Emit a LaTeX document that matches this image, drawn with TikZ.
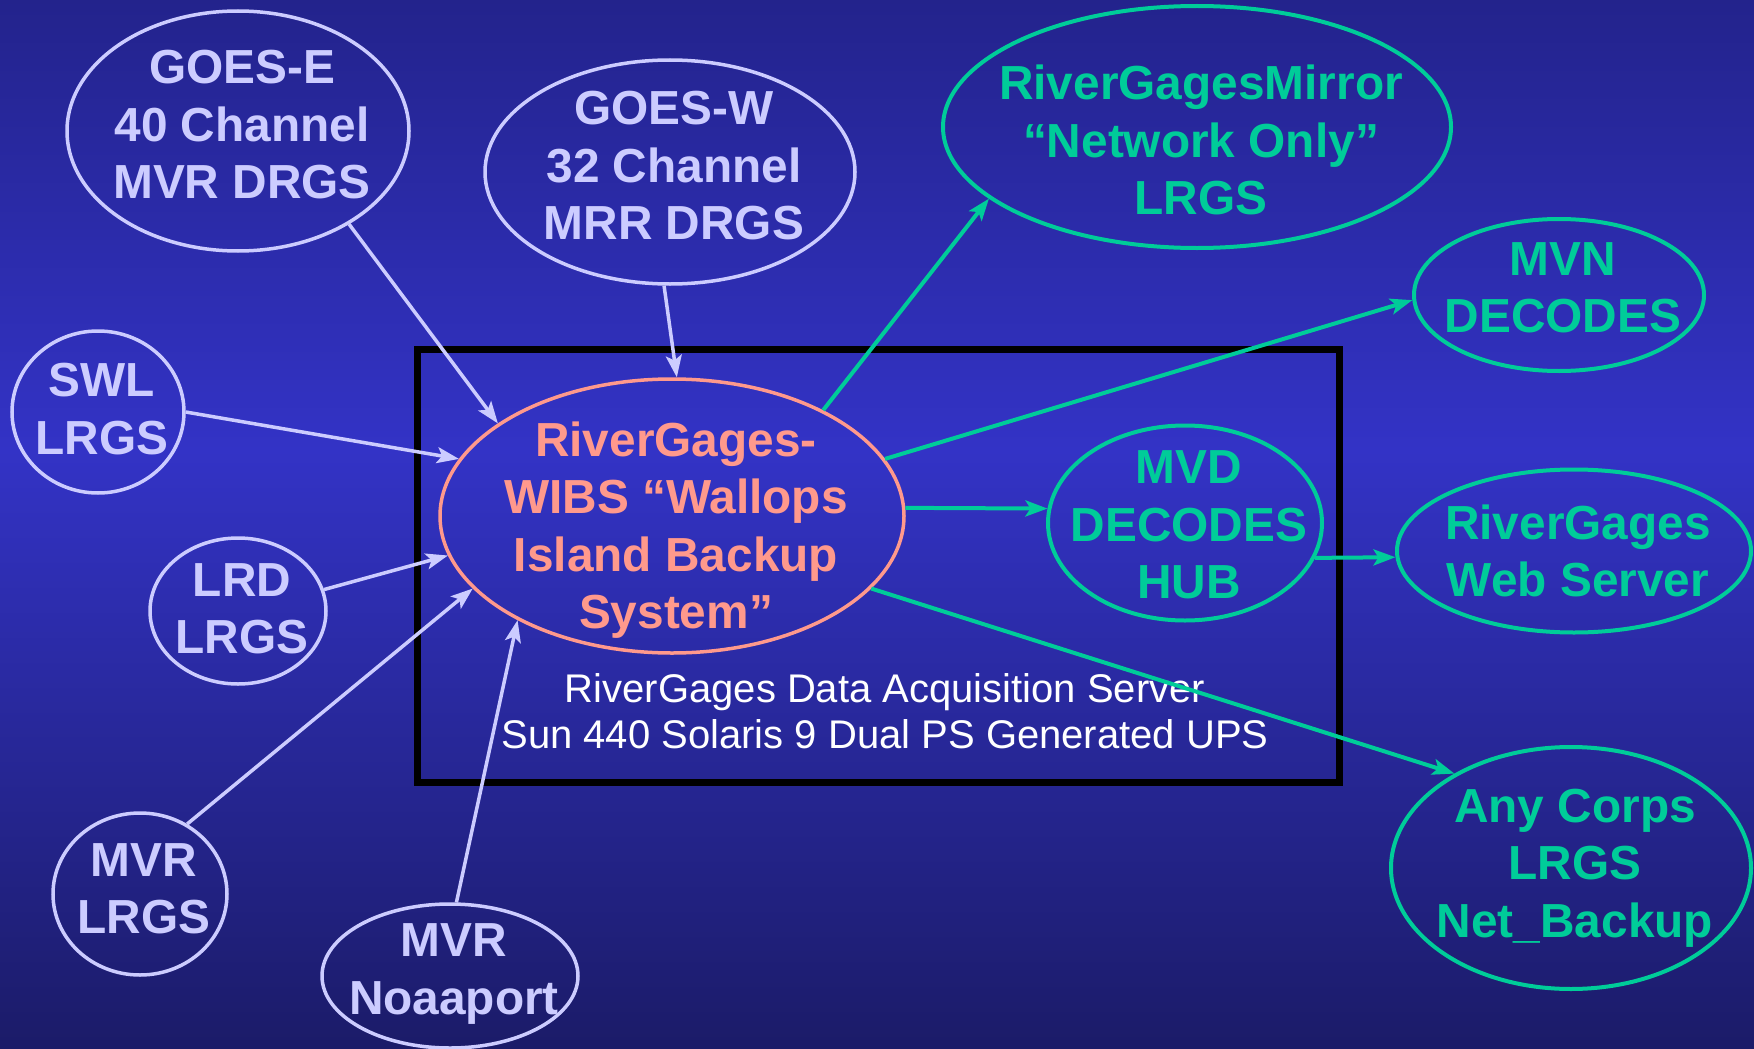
\documentclass[tikz,border=0pt]{standalone}
\usepackage{fontspec}
\setmainfont{Liberation Sans}
\usetikzlibrary{shapes.geometric,arrows.meta}
\definecolor{lav}{RGB}{204,204,255}
\definecolor{grn}{RGB}{0,204,153}
\definecolor{salm}{RGB}{255,153,140}
\definecolor{bgtop}{RGB}{35,35,140}
\definecolor{bgmid}{RGB}{51,51,198}
\definecolor{bgbot}{RGB}{27,27,104}
\tikzset{
  src/.style={ellipse,draw=lav,line width=3.5pt,inner sep=0pt},
  dst/.style={ellipse,draw=grn,line width=4pt,inner sep=0pt},
  hubstyle/.style={ellipse,draw=salm,line width=3.5pt,inner sep=0pt},
  srctext/.style={text=lav,font=\bfseries\fontsize{47.8}{57.5}\selectfont,align=center,xshift=4pt},
  dsttext/.style={text=grn,font=\bfseries\fontsize{47.8}{57.5}\selectfont,align=center,xshift=4pt},
  hubtext/.style={text=salm,font=\bfseries\fontsize{47.8}{57.5}\selectfont,align=center,xshift=4pt},
  srcline/.style={->,color=lav,line width=3.5pt},
  dstline/.style={->,color=grn,line width=4pt}
}

\begin{document}
\begin{tikzpicture}[x=1pt,y=-1pt,>={Stealth[length=22pt,width=16pt,inset=5pt]}]
\shade[top color=bgtop,bottom color=bgmid] (0,0) rectangle (1754,450);
\shade[top color=bgmid,bottom color=bgbot] (0,450) rectangle (1754,1049);
\useasboundingbox (0,0) rectangle (1754,1049);
%
       \node [draw=black,line width=7pt,minimum width=922pt,minimum height=433pt] at (878,565.5) (srv) {};
       \node [text=white,font=\fontsize{40}{46}\selectfont,align=center] at (885,711) (srvtext) {RiverGages Data Acquisition Server\\Sun 440 Solaris 9 Dual PS Generated UPS};
%
       \node [src,minimum width=342pt,minimum height=240pt,label={[srctext,yshift=6pt]center:{GOES-E\\40 Channel\\MVR DRGS}}] at (238,131) (goese) {};
          \node [src,minimum width=370pt,minimum height=224pt,label={[srctext,yshift=6pt]center:{GOES-W\\32 Channel\\MRR DRGS}}] at (670,172) (goesw) {};
             \node [src,minimum width=172pt,minimum height=162pt,label={[srctext,yshift=3pt]center:{SWL\\LRGS}}] at (98,412) (swl) {};
             \node [src,minimum width=176pt,minimum height=146pt,label={[srctext,yshift=2pt]center:{LRD\\LRGS}}] at (238,611) (lrd) {};
                \node [src,minimum width=174pt,minimum height=162pt,label={[srctext,yshift=5pt]center:{MVR\\LRGS}}] at (140,894) (mvr lrgs) {};
                \node [src,minimum width=256pt,minimum height=144pt,label={[srctext,yshift=2pt]center:{MVR\\Noaaport}}] at (450,976) (mvr noaa) {};
%
       \node [hubstyle,minimum width=464pt,minimum height=274pt,label={[hubtext,yshift=-14pt]center:{RiverGages-\\WIBS “Wallops\\Island Backup\\System”}}] at (672,516) (wibs) {};
%
       \node [dst,minimum width=508pt,minimum height=242pt,label={[dsttext,yshift=-13pt]center:{RiverGagesMirror\\“Network Only”\\LRGS}}] at (1197,127) (mirror) {};
          \node [dst,minimum width=290pt,minimum height=152pt,label={[dsttext,yshift=7pt]center:{MVN\\DECODES}}] at (1559,295) (mvn) {};
          \node [dst,minimum width=274pt,minimum height=195pt,label={[dsttext,yshift=-2pt]center:{MVD\\DECODES\\HUB}}] at (1185,523) (mvd hub) {};
             \node [dst,minimum width=354pt,minimum height=163pt,label={[dsttext]center:{RiverGages\\Web Server}}] at (1574,551) (web) {};
             \node [dst,minimum width=360pt,minimum height=242pt,label={[dsttext]center:{Any Corps\\LRGS\\Net\_Backup}}] at (1571,868) (any corps) {};
%
\path[srcline] (goese.-40) edge (wibs.152);
\path[srcline] (goesw.-93) edge (wibs.88);
\path[srcline] (swl.0) edge (wibs.165);
\path[srcline] (lrd.14) edge (wibs.190);
\path[srcline] (mvr lrgs.56) edge (wibs.200);
\path[srcline] (mvr noaa.85) edge (wibs.214);
%
\path[dstline] (wibs.35) edge (mirror.-161);
\path[dstline] (wibs.15) edge (mvn.182);
\path[dstline] (wibs.2) edge (mvd hub.174);
\path[dstline] (mvd hub.-15) edge (web.182);
\path[dstline] (wibs.-20) edge (any corps.141);

\end{tikzpicture}
\end{document}
